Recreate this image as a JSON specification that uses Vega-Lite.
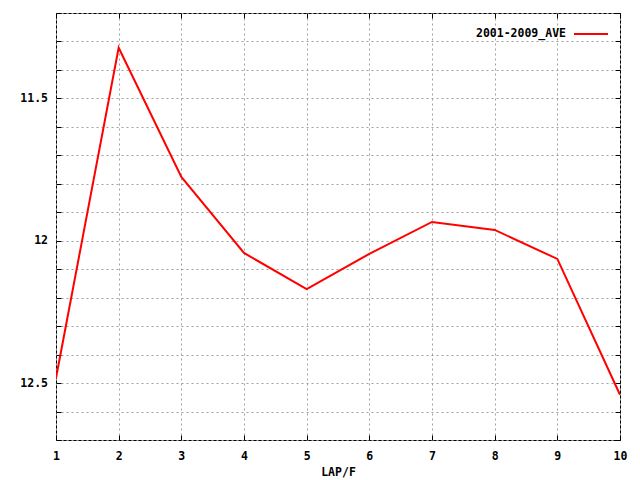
{
  "$schema": "https://vega.github.io/schema/vega-lite/v6.json",
  "width": 564,
  "height": 427,
  "autosize": {"type": "none"},
  "padding": {"left": 56, "top": 13, "right": 20, "bottom": 40},
  "background": "white",
  "config": {
    "view": {"stroke": "black", "strokeWidth": 1},
    "axis": {
      "labelFont": "DejaVu Sans Mono",
      "labelFontWeight": "bold",
      "labelFontSize": 11.5,
      "labelColor": "black",
      "titleFont": "DejaVu Sans Mono",
      "titleFontWeight": "bold",
      "titleFontSize": 11.5,
      "titleColor": "black",
      "tickColor": "black",
      "tickSize": -5,
      "tickWidth": 1,
      "domain": false,
      "gridColor": "#a0a0a0",
      "gridDash": [2, 3],
      "gridWidth": 1,
      "gridOpacity": 1
    },
    "legend": {
      "labelFont": "DejaVu Sans Mono",
      "labelFontWeight": "bold",
      "labelFontSize": 11.5,
      "labelColor": "black"
    }
  },
  "data": {
    "values": [
      {"lap": 1, "time": 12.482, "series": "2001-2009_AVE"},
      {"lap": 2, "time": 11.322, "series": "2001-2009_AVE"},
      {"lap": 3, "time": 11.776, "series": "2001-2009_AVE"},
      {"lap": 4, "time": 12.043, "series": "2001-2009_AVE"},
      {"lap": 5, "time": 12.17, "series": "2001-2009_AVE"},
      {"lap": 6, "time": 12.046, "series": "2001-2009_AVE"},
      {"lap": 7, "time": 11.934, "series": "2001-2009_AVE"},
      {"lap": 8, "time": 11.962, "series": "2001-2009_AVE"},
      {"lap": 9, "time": 12.064, "series": "2001-2009_AVE"},
      {"lap": 10, "time": 12.541, "series": "2001-2009_AVE"}
    ]
  },
  "layer": [
    {
      "mark": {"type": "line", "strokeWidth": 2, "clip": true},
      "encoding": {
        "x": {
          "field": "lap",
          "type": "quantitative",
          "scale": {"domain": [1, 10], "nice": false, "zero": false},
          "axis": {
            "orient": "bottom",
            "title": "LAP/F",
            "values": [1, 2, 3, 4, 5, 6, 7, 8, 9, 10],
            "format": "d",
            "grid": true,
            "labelPadding": 15,
            "titlePadding": 5,
            "labelFlush": false
          }
        },
        "y": {
          "field": "time",
          "type": "quantitative",
          "scale": {"domain": [11.2, 12.7], "reverse": true, "nice": false, "zero": false},
          "axis": {
            "orient": "left",
            "title": null,
            "values": [11.2, 11.3, 11.4, 11.5, 11.6, 11.7, 11.8, 11.9, 12, 12.1, 12.2, 12.3, 12.4, 12.5, 12.6, 12.7],
            "labelExpr": "abs(datum.value - 11.5) < 0.001 ? '11.5' : abs(datum.value - 12) < 0.001 ? '12' : abs(datum.value - 12.5) < 0.001 ? '12.5' : ''",
            "grid": true,
            "labelPadding": 13.5,
            "labelFlush": false
          }
        },
        "color": {
          "field": "series",
          "type": "nominal",
          "scale": {"range": ["#ff0000"]},
          "legend": {
            "title": null,
            "orient": "none",
            "legendX": 517,
            "legendY": 3,
            "symbolType": "stroke",
            "symbolSize": 1156,
            "symbolStrokeWidth": 2,
            "labelAlign": "right",
            "labelOffset": -43
          }
        }
      }
    },
    {
      "mark": {"type": "line", "opacity": 0},
      "encoding": {
        "x": {
          "field": "lap",
          "type": "quantitative",
          "scale": {"domain": [1, 10], "nice": false, "zero": false},
          "axis": {"orient": "top", "title": null, "values": [1, 2, 3, 4, 5, 6, 7, 8, 9, 10], "labels": false, "grid": false}
        },
        "y": {
          "field": "time",
          "type": "quantitative",
          "scale": {"domain": [11.2, 12.7], "reverse": true, "nice": false, "zero": false},
          "axis": {"orient": "right", "title": null, "values": [11.2, 11.3, 11.4, 11.5, 11.6, 11.7, 11.8, 11.9, 12, 12.1, 12.2, 12.3, 12.4, 12.5, 12.6, 12.7], "labels": false, "grid": false}
        }
      }
    }
  ],
  "resolve": {"scale": {"x": "independent", "y": "independent"}}
}
